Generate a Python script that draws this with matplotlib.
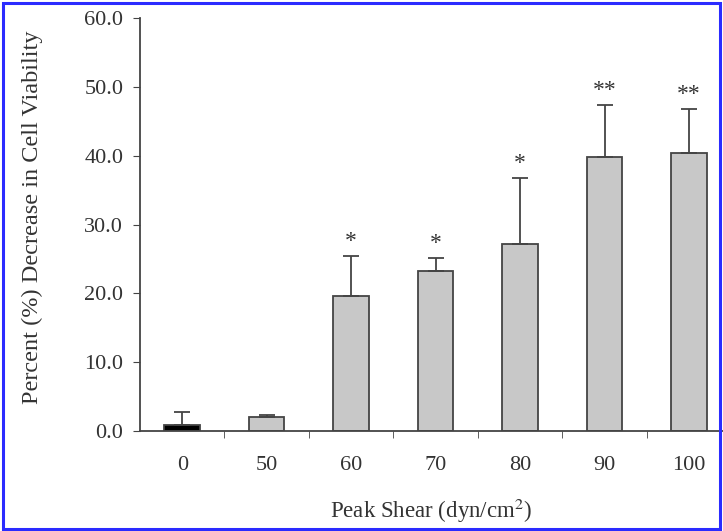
import numpy as np
import matplotlib.pyplot as plt
from matplotlib.patches import Rectangle

# peak shear groups and viability decrease
shear = ['0', '50', '60', '70', '80', '90', '100']
decrease = [0.9, 2.0, 19.6, 23.2, 27.2, 39.8, 40.4]
sd = [1.8, 0.3, 5.8, 1.9, 9.6, 7.6, 6.4]
marks = ['', '', '*', '*', '*', '**', '**']

plt.rcParams['font.family'] = ['Liberation Serif', 'DejaVu Serif']
plt.rcParams['mathtext.fontset'] = 'stix'
txt = '#333333'

fig = plt.figure(figsize=(7.23, 5.31), dpi=100)
ax = fig.add_axes([0.1936, 0.1883, 0.8064, 0.7778])

x = np.arange(len(shear))
colors = ['black'] + ['#c8c8c8'] * (len(shear) - 1)
ax.bar(x, decrease, width=0.42, color=colors, edgecolor='#444444', linewidth=1.3)
ax.errorbar(x, decrease, yerr=[np.zeros(len(sd)), sd], fmt='none',
            ecolor='#444444', elinewidth=1.3, capsize=6, capthick=1.3)

for xi, d, s, m in zip(x, decrease, sd, marks):
    if m:
        ax.text(xi, d + s + 0.6, m, ha='center', va='bottom', fontsize=17, color=txt)

ax.set_xlim(-0.5, 6.4)
ax.set_ylim(0, 60)
ax.set_yticks(np.arange(0, 61, 10))
ax.set_yticklabels([f'{v:.1f}' for v in np.arange(0, 61, 10)], fontsize=16, color=txt)
ax.set_xticks(x)
ax.set_xticklabels(shear, fontsize=16, color=txt)
ax.set_xticks(x[:-1] + 0.5, minor=True)
ax.tick_params(axis='x', which='major', length=0, pad=18)
ax.tick_params(axis='x', which='minor', length=5, direction='out', color='#444444')
ax.tick_params(axis='y', length=5, direction='out', color='#444444', pad=7)

for s in ['top', 'right']:
    ax.spines[s].set_visible(False)
for s in ['left', 'bottom']:
    ax.spines[s].set_color('#444444')
    ax.spines[s].set_linewidth(1.3)

ax.set_ylabel('Percent (%) Decrease in Cell Viability', fontsize=17.5, color=txt)
ax.yaxis.set_label_coords(-0.167, 0.518)
ax.set_xlabel('Peak Shear (dyn/cm$^2$)', fontsize=16.5, color=txt)
ax.xaxis.set_label_coords(0.5, -0.16)

fig.patches.append(Rectangle((0.004, 0.004), 0.992, 0.99, transform=fig.transFigure,
                             fill=False, edgecolor='#2b2bff', linewidth=2.2))

fig.savefig('out.png', dpi=100)
